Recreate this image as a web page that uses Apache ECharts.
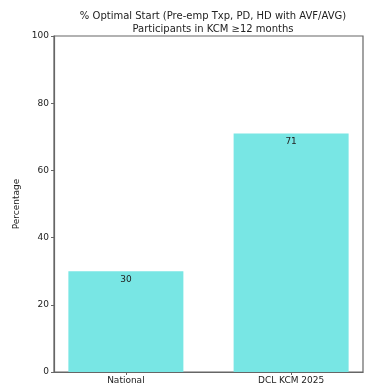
<!DOCTYPE html>
<html><head><meta charset="utf-8">
<script src="https://cdn.jsdelivr.net/npm/echarts@6/dist/echarts.min.js"></script>
<style>html,body{margin:0;padding:0;background:#fff}#c{width:391px;height:387px}</style>
</head><body><div id="c"></div>
<script>
const categories = ['National', 'DCL KCM 2025'];
const values = [30, 71];
const yTicks = [0, 20, 40, 60, 80, 100];
const titleLines = ['% Optimal Start (Pre-emp Txp, PD, HD with AVF/AVG)', 'Participants in KCM \u226512 months'];

const chart = echarts.init(document.getElementById('c'), null, {renderer: 'canvas'});
const font = 'DejaVu Sans';
const axisCol = '#666';
chart.setOption({
  animation: false,
  title: {
    text: titleLines.join('\n'),
    left: 208, top: 5, textAlign: 'center',
    textStyle: {fontFamily: font, fontSize: 10, fontWeight: 'normal', color: '#222', lineHeight: 13}
  },
  grid: {left: 54, right: 28, top: 36, bottom: 15, show: true, borderColor: axisCol, borderWidth: 1.2, backgroundColor: 'transparent'},
  xAxis: {
    type: 'value', min: -0.435, max: 1.435,
    splitLine: {show: false},
    axisLine: {show: true, onZero: false, lineStyle: {color: axisCol, width: 1.2}},
    axisTick: {show: true, customValues: [0, 1], length: 3, lineStyle: {color: axisCol}},
    axisLabel: {customValues: [0, 1], formatter: v => categories[Math.round(v)], fontFamily: font, fontSize: 9, color: '#222', margin: 4}
  },
  yAxis: {
    type: 'value', min: 0, max: 100, interval: 20,
    name: 'Percentage', nameLocation: 'middle', nameGap: 25, nameRotate: 90,
    nameTextStyle: {fontFamily: font, fontSize: 9, color: '#222'},
    splitLine: {show: false},
    axisLine: {show: true, onZero: false, lineStyle: {color: axisCol, width: 1.2}},
    axisTick: {show: true, length: 3, lineStyle: {color: axisCol}},
    axisLabel: {fontFamily: font, fontSize: 9, color: '#222', margin: 5,
      formatter: v => yTicks.includes(v) ? String(v) : ''}
  },
  series: [{
    type: 'bar',
    data: values.map((v, i) => [i, v]),
    barWidth: 115,
    itemStyle: {color: '#78E6E4'},
    label: {show: true, position: 'insideTop', distance: 4, fontFamily: font, fontSize: 9, color: '#222'}
  }]
});
</script></body></html>
